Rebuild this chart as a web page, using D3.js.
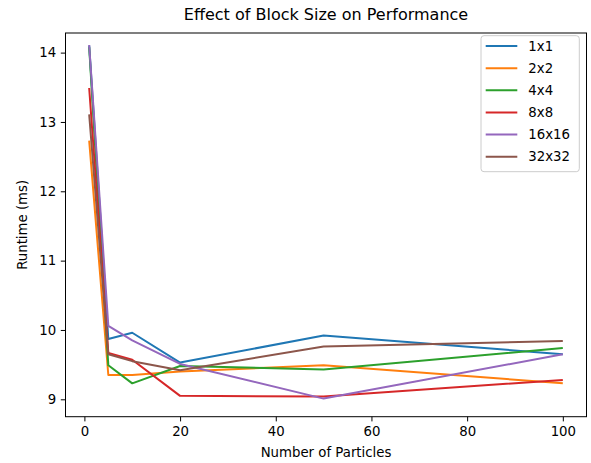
<!DOCTYPE html>
<html>
<head>
<meta charset="utf-8">
<script src="https://cdn.jsdelivr.net/npm/d3@7"></script>
<style>
  body { margin: 0; background: #fff; }
  text { font-family: "DejaVu Sans", sans-serif; fill: #000; }
</style>
</head>
<body>
<div id="chart"></div>
<script>
// data
const particles = [1, 5, 10, 20, 50, 100];
const blockSizes = ["1x1", "2x2", "4x4", "8x8", "16x16", "32x32"];
const runtime1x1   = [14.10, 9.87, 9.96, 9.53, 9.92, 9.65];
const runtime2x2   = [12.73, 9.35, 9.35, 9.40, 9.49, 9.23];
const runtime4x4   = [14.08, 9.49, 9.23, 9.48, 9.43, 9.74];
const runtime8x8   = [13.49, 9.67, 9.57, 9.05, 9.04, 9.28];
const runtime16x16 = [14.11, 10.06, 9.85, 9.51, 9.01, 9.65];
const runtime32x32 = [13.11, 9.65, 9.55, 9.42, 9.76, 9.84];
const xTicks = [0, 20, 40, 60, 80, 100];
const yTicks = [9, 10, 11, 12, 13, 14];
const colors = ["#1f77b4", "#ff7f0e", "#2ca02c", "#d62728", "#9467bd", "#8c564b"];

const allRuns = [runtime1x1, runtime2x2, runtime4x4, runtime8x8, runtime16x16, runtime32x32];
const series = blockSizes.map((name, i) => ({
  name: name,
  color: colors[i],
  values: particles.map((p, j) => ({ x: p, y: allRuns[i][j] }))
}));

const width = 591, height = 463;
const plot = { left: 65.5, right: 586.5, top: 33, bottom: 416.7 };

const svg = d3.select("#chart")
  .append("svg")
  .attr("width", width)
  .attr("height", height);

const x = d3.scaleLinear().domain([-3.95, 104.95]).range([plot.left, plot.right]);
const y = d3.scaleLinear().domain([8.749, 14.283]).range([plot.bottom, plot.top]);

// Lines
const line = d3.line().x(d => x(d.x)).y(d => y(d.y));

svg.append("clipPath").attr("id", "plotclip")
  .append("rect")
  .attr("x", plot.left).attr("y", plot.top)
  .attr("width", plot.right - plot.left).attr("height", plot.bottom - plot.top);

svg.append("g")
  .attr("clip-path", "url(#plotclip)")
  .selectAll("path")
  .data(series)
  .enter()
  .append("path")
  .attr("d", d => line(d.values))
  .attr("fill", "none")
  .attr("stroke", d => d.color)
  .attr("stroke-width", 2)
  .attr("stroke-linejoin", "round");

// X-axis
const xAxis = svg.append("g")
  .attr("transform", `translate(0, ${plot.bottom})`)
  .call(d3.axisBottom(x).tickValues(xTicks).tickFormat(d3.format("d"))
    .tickSize(4.7).tickPadding(4.7).tickSizeOuter(0));
xAxis.selectAll("text").style("font-size", "13.3px");

// Y-axis
const yAxis = svg.append("g")
  .attr("transform", `translate(${plot.left}, 0)`)
  .call(d3.axisLeft(y).tickValues(yTicks).tickFormat(d3.format("d"))
    .tickSize(4.7).tickPadding(4.7).tickSizeOuter(0));
yAxis.selectAll("text").style("font-size", "13.3px");

svg.selectAll(".domain").remove();
svg.selectAll(".tick line").style("stroke", "black").style("stroke-width", 1);

// Frame
svg.append("rect")
  .attr("x", plot.left).attr("y", plot.top)
  .attr("width", plot.right - plot.left).attr("height", plot.bottom - plot.top)
  .attr("fill", "none")
  .attr("stroke", "black")
  .attr("stroke-width", 1);

// Title and labels
svg.append("text")
  .attr("x", (plot.left + plot.right) / 2)
  .attr("y", 19.5)
  .attr("text-anchor", "middle")
  .style("font-size", "16px")
  .text("Effect of Block Size on Performance");

svg.append("text")
  .attr("x", (plot.left + plot.right) / 2)
  .attr("y", 457)
  .attr("text-anchor", "middle")
  .style("font-size", "13.3px")
  .text("Number of Particles");

svg.append("text")
  .attr("transform", `translate(22.7, ${(plot.top + plot.bottom) / 2}) rotate(-90)`)
  .attr("text-anchor", "middle")
  .attr("dy", "0.35em")
  .style("font-size", "13.3px")
  .text("Runtime (ms)");

// Legend
const legend = svg.append("g");
legend.append("rect")
  .attr("x", 481).attr("y", 35.7)
  .attr("width", 98.3).attr("height", 136)
  .attr("rx", 3)
  .attr("fill", "white")
  .attr("fill-opacity", 0.8)
  .attr("stroke", "#cccccc");

const item = legend.selectAll(".item")
  .data(series)
  .enter()
  .append("g")
  .attr("transform", (d, i) => `translate(0, ${46 + i * 22.15})`);

item.append("line")
  .attr("x1", 485.7).attr("x2", 517.3)
  .attr("stroke", d => d.color)
  .attr("stroke-width", 2);

item.append("text")
  .attr("x", 528.3)
  .attr("dy", "0.35em")
  .style("font-size", "13.3px")
  .text(d => d.name);
</script>
</body>
</html>
